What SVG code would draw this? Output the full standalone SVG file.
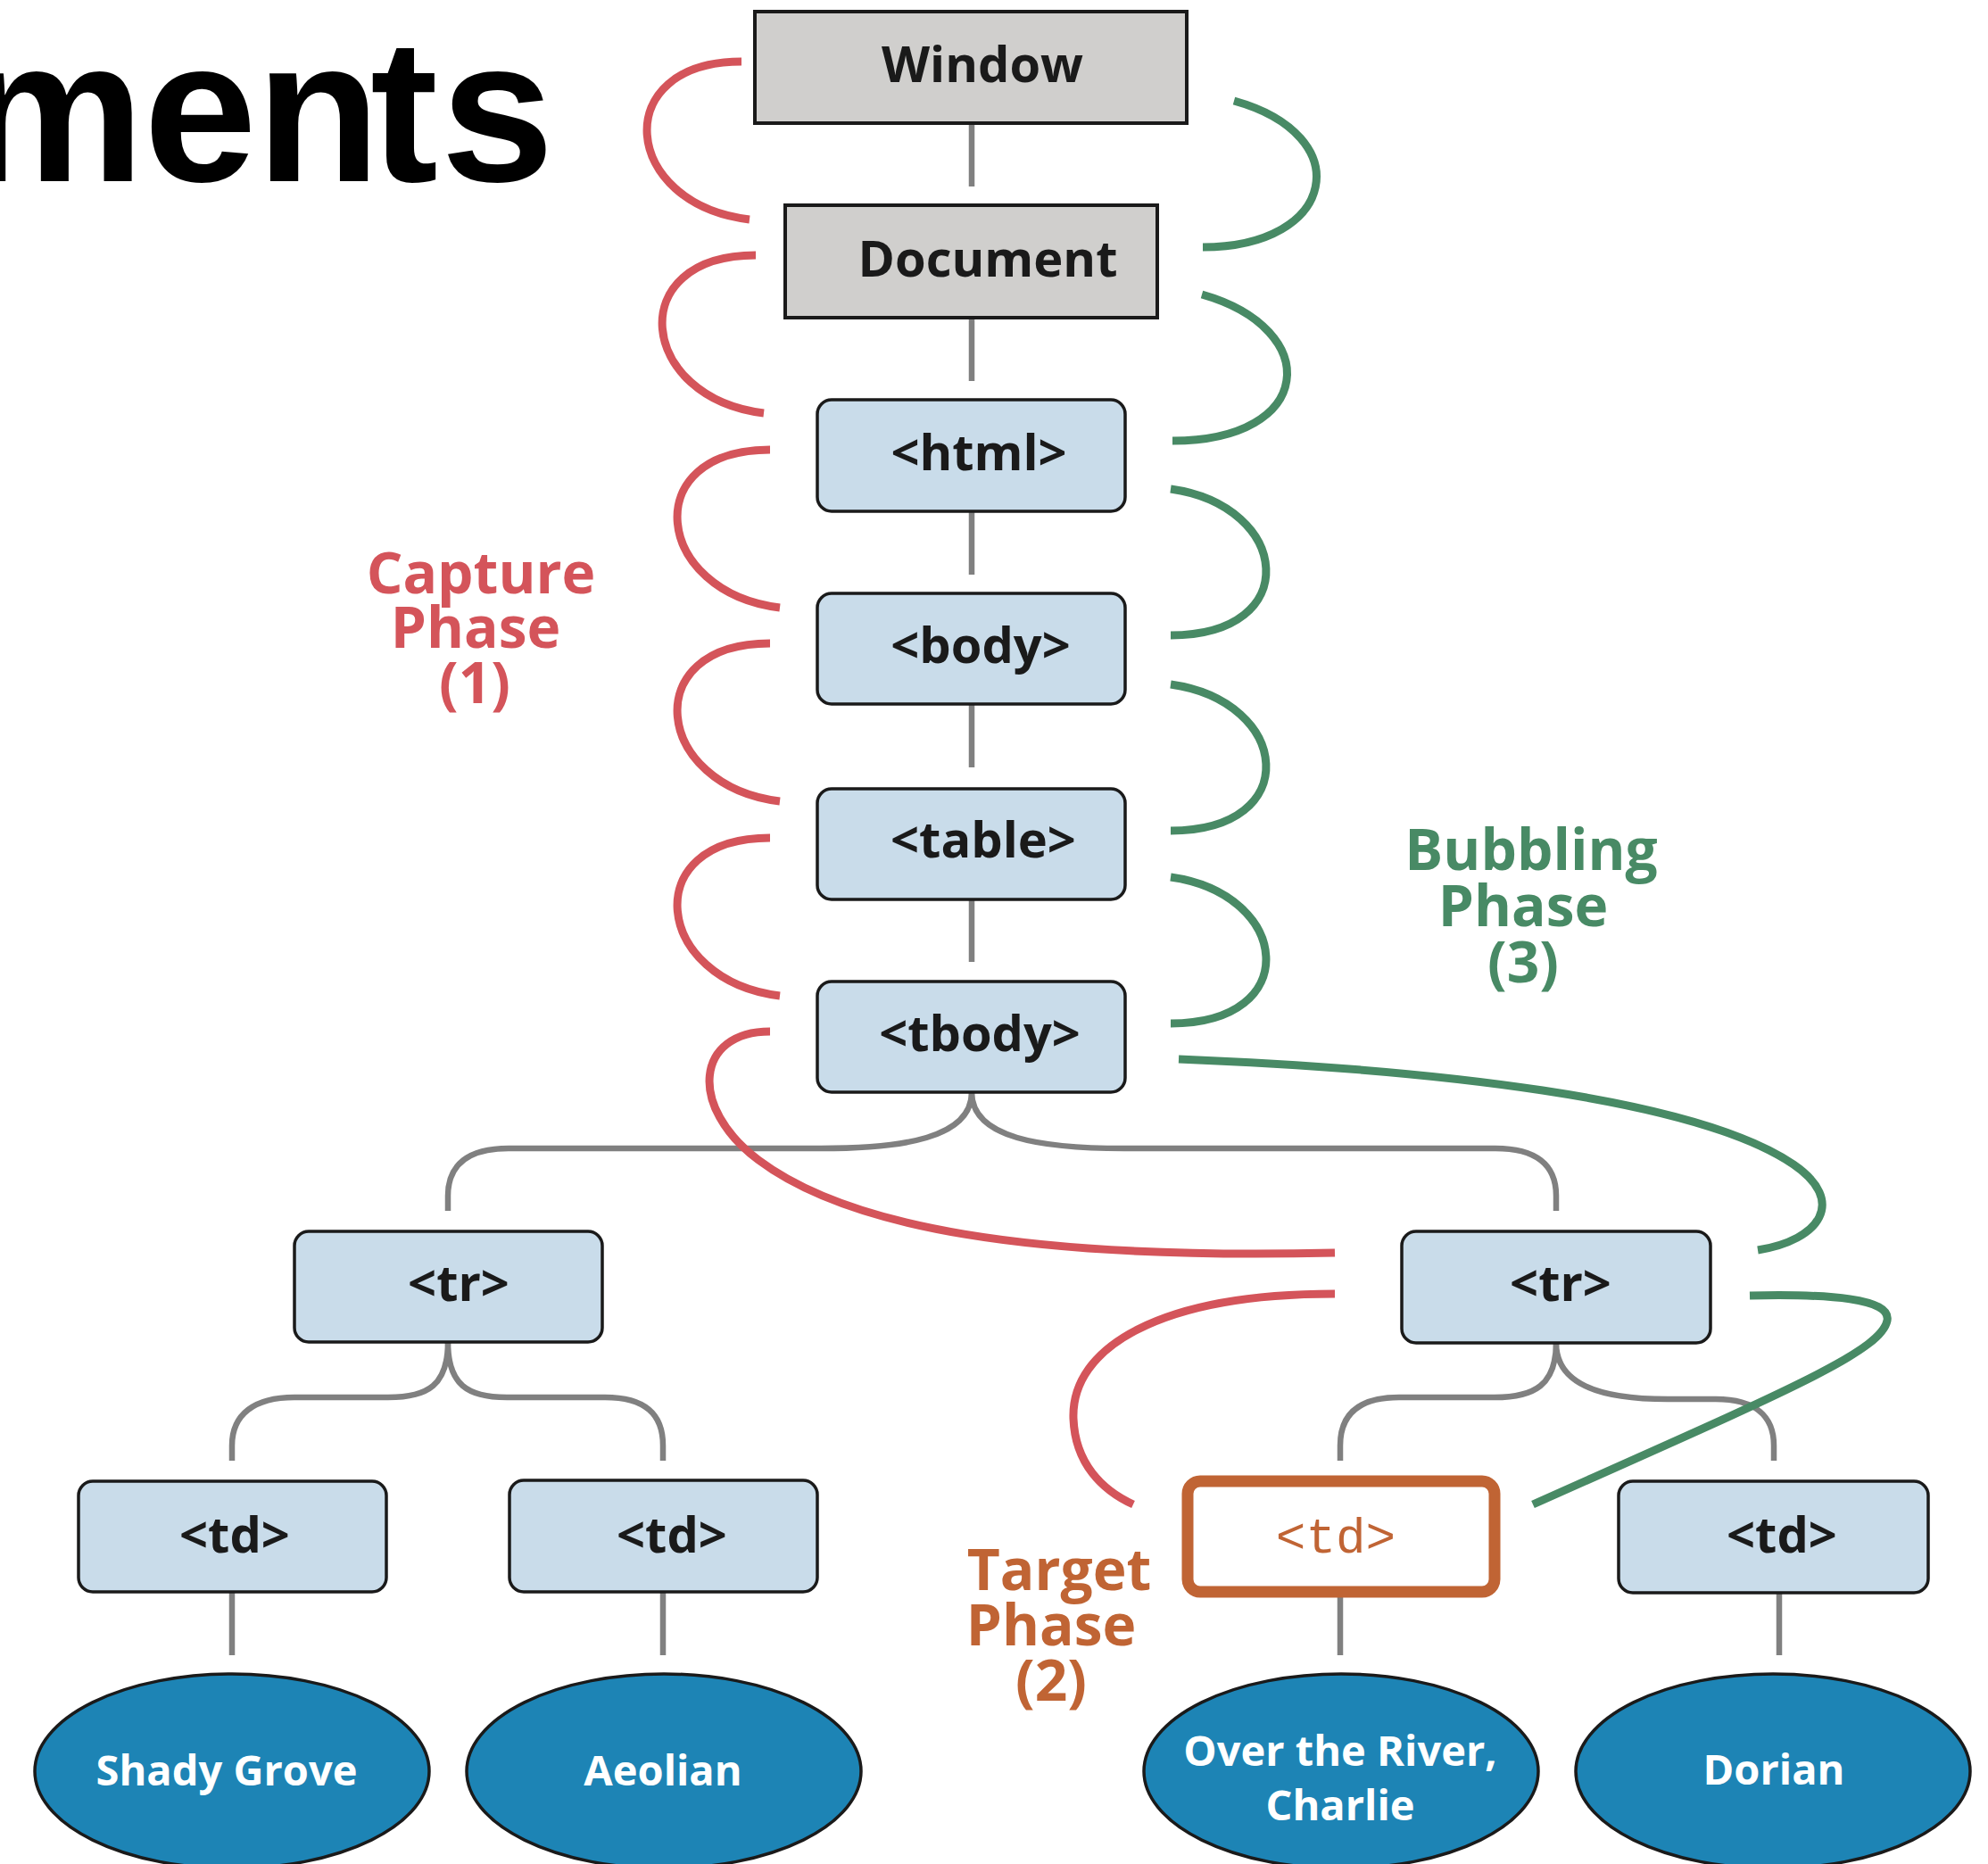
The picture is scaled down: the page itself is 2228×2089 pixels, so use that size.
<svg xmlns="http://www.w3.org/2000/svg" width="2228" height="2089" viewBox="0 0 2228 2089">
<style>
.gbox{fill:#d0cfcd;stroke:#1a1a1a;stroke-width:4}
.box{fill:#c9dcea;stroke:#1a1a1a;stroke-width:3.5}
.target{fill:#ffffff;stroke:#c06434;stroke-width:13}
.leaf{fill:#1d84b5;stroke:#1a1a1a;stroke-width:3.5}
.lbl{font-family:"Open Sans","Noto Sans",sans-serif;font-weight:700;font-size:56px;fill:#1a1a1a;text-anchor:middle}
.leaft{font-family:"Open Sans","Noto Sans",sans-serif;font-weight:700;font-size:47px;fill:#ffffff;text-anchor:middle}
.mono{font-family:"Liberation Mono","DejaVu Sans Mono",monospace;font-size:56px;fill:#c06434;text-anchor:middle}
.phase{font-family:"Open Sans","Noto Sans",sans-serif;font-weight:700;font-size:64px;text-anchor:middle}
.tree{fill:none;stroke:#808080;stroke-width:6.5}
.cap{fill:none;stroke:#d4545a;stroke-width:9}
.bub{fill:none;stroke:#488a65;stroke-width:9}
</style>
<rect width="2228" height="2089" fill="#ffffff"/>
<text x="-41 161 287 415 494" y="203" font-family="'Liberation Sans',Arial,sans-serif" font-weight="700" font-size="228" fill="#000000">ments</text>

<g id="connectors">
  <path class="tree" d="M1089,138 V209 M1089,356 V427 M1089,573 V644 M1089,789 V860 M1089,1008 V1078"/>
  <path class="tree" d="M1089,1224 C1089,1276 1010,1287 920,1287 L570,1287 C525,1287 502,1305 502,1340 L502,1357"/>
  <path class="tree" d="M1089,1224 C1089,1276 1168,1287 1260,1287 L1676,1287 C1721,1287 1744,1305 1744,1340 L1744,1357"/>
  <path class="tree" d="M502,1504 C502,1552 480,1566 435,1566 L330,1566 C285,1566 260,1585 260,1620 L260,1637"/>
  <path class="tree" d="M502,1504 C502,1552 524,1566 568,1566 L678,1566 C723,1566 743,1585 743,1620 L743,1637"/>
  <path class="tree" d="M1744,1505 C1744,1552 1720,1566 1675,1566 L1568,1566 C1523,1566 1502,1585 1502,1620 L1502,1637"/>
  <path class="tree" d="M1744,1505 C1744,1550 1790,1568 1869,1568 L1923,1568 C1968,1568 1988,1588 1988,1620 L1988,1637"/>
  <path class="tree" d="M260,1784 V1855 M743,1784 V1855 M1502,1790 V1855 M1994,1786 V1855"/>

  <path class="cap" d="M831,69 c-150,0 -135,160 9,177"/>
  <path class="cap" d="M847,286 c-150,0 -132,160 9,177"/>
  <path class="cap" d="M863,504 c-150,0 -130,160 11,177"/>
  <path class="cap" d="M863,721 c-150,0 -130,160 11,177"/>
  <path class="cap" d="M863,939 c-150,0 -130,160 11,177"/>
  <path class="cap" d="M863,1156 C780,1156 770,1240 850,1300 C950,1375 1150,1412 1496,1404"/>
  <path class="cap" d="M1496,1450 C1300,1450 1200,1510 1203,1590 C1205,1640 1235,1670 1270,1686"/>

  <path class="bub" d="M1348,277 c150,0 175,-125 35,-164"/>
  <path class="bub" d="M1314,494 c160,0 170,-125 33,-164"/>
  <path class="bub" d="M1312,712 c150,0 135,-145 0,-164"/>
  <path class="bub" d="M1312,931 c150,0 135,-145 0,-164"/>
  <path class="bub" d="M1312,1147 c150,0 135,-145 0,-164"/>
  <path class="bub" d="M1321,1187 C1600,1198 1900,1230 2010,1305 C2070,1346 2040,1390 1970,1401"/>
  <path class="bub" d="M1961,1452 C2050,1450 2120,1455 2115,1480 C2108,1515 2000,1560 1718,1686"/>
</g>

<g id="window"><rect class="gbox" x="846" y="13" width="484" height="125"/><text class="lbl" x="1101" y="92">Window</text></g>
<g id="document"><rect class="gbox" x="880" y="230" width="417" height="126"/><text class="lbl" x="1107" y="310">Document</text></g>
<g id="html"><rect class="box" x="916" y="448" width="345" height="125" rx="16"/><text class="lbl" x="1097" y="527">&lt;html&gt;</text></g>
<g id="body"><rect class="box" x="916" y="665" width="345" height="124" rx="16"/><text class="lbl" x="1099" y="743">&lt;body&gt;</text></g>
<g id="table"><rect class="box" x="916" y="884" width="345" height="124" rx="16"/><text class="lbl" x="1102" y="961">&lt;table&gt;</text></g>
<g id="tbody"><rect class="box" x="916" y="1100" width="345" height="124" rx="16"/><text class="lbl" x="1098" y="1178">&lt;tbody&gt;</text></g>
<g id="tr-left"><rect class="box" x="330" y="1380" width="345" height="124" rx="16"/><text class="lbl" x="514" y="1458">&lt;tr&gt;</text></g>
<g id="tr-right"><rect class="box" x="1571" y="1380" width="346" height="125" rx="16"/><text class="lbl" x="1749" y="1458">&lt;tr&gt;</text></g>
<g id="td-1"><rect class="box" x="88" y="1660" width="345" height="124" rx="16"/><text class="lbl" x="263" y="1740">&lt;td&gt;</text></g>
<g id="td-2"><rect class="box" x="571" y="1659" width="345" height="125" rx="16"/><text class="lbl" x="753" y="1740">&lt;td&gt;</text></g>
<g id="td-target"><rect class="target" x="1331" y="1660" width="344" height="124" rx="14"/><text class="mono" x="1497" y="1740">&lt;td&gt;</text></g>
<g id="td-4"><rect class="box" x="1814" y="1660" width="347" height="125" rx="16"/><text class="lbl" x="1997" y="1740">&lt;td&gt;</text></g>

<g id="leaf-shady"><ellipse class="leaf" cx="260" cy="1985" rx="221" ry="109"/><text class="leaft" x="254" y="2001">Shady Grove</text></g>
<g id="leaf-aeolian"><ellipse class="leaf" cx="744" cy="1985" rx="221" ry="109"/><text class="leaft" x="743" y="2001">Aeolian</text></g>
<g id="leaf-river"><ellipse class="leaf" cx="1503" cy="1985" rx="221" ry="109"/><text class="leaft" x="1502" y="1979">Over the River,</text><text class="leaft" x="1502" y="2040">Charlie</text></g>
<g id="leaf-dorian"><ellipse class="leaf" cx="1987" cy="1985" rx="221" ry="109"/><text class="leaft" x="1988" y="2000">Dorian</text></g>

<g id="capture-label" fill="#d4545a"><text class="phase" x="539" y="665">Capture</text><text class="phase" x="533" y="726">Phase</text><text class="phase" x="532" y="788">(1)</text></g>
<g id="bubbling-label" fill="#488a65"><text class="phase" x="1716" y="975">Bubbling</text><text class="phase" x="1707" y="1038">Phase</text><text class="phase" x="1707" y="1101">(3)</text></g>
<g id="target-label" fill="#c06434"><text class="phase" x="1187" y="1782">Target</text><text class="phase" x="1178" y="1844">Phase</text><text class="phase" x="1178" y="1906">(2)</text></g>
</svg>
